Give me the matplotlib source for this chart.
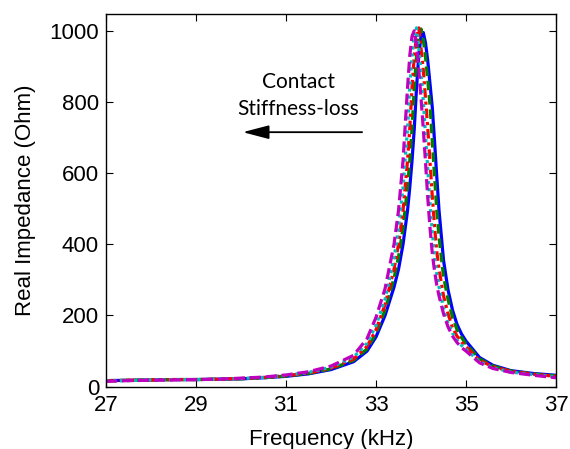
import matplotlib
matplotlib.use("Agg")
import matplotlib.pyplot as plt

freq = [27, 27.5, 28, 28.5, 29, 29.5, 30, 30.5, 31, 31.5, 32, 32.5, 32.8, 33.0, 33.2, 33.4,
        33.5, 33.6, 33.7, 33.75, 33.8, 33.85, 33.9, 33.95, 34.0, 34.05, 34.1, 34.15, 34.2,
        34.25, 34.3, 34.35, 34.4, 34.5, 34.6, 34.7, 34.8, 34.9, 35.0, 35.3, 35.6, 36.0, 36.5, 37.0]

blue = [17, 18, 19, 20, 20, 21, 22, 25, 29, 36, 48, 70, 100, 140, 200, 280,
        330, 400, 495, 560, 635, 725, 840, 930, 985, 995, 965, 915, 850,
        785, 690, 590, 495, 355, 272, 215, 175, 148, 128, 82, 60, 45, 37, 32]
green = [17, 18, 19, 20, 20, 21, 22, 25, 30, 37, 50, 74, 106, 150, 215, 305,
         365, 445, 560, 635, 725, 840, 930, 985, 1005, 975, 925, 860, 790,
         690, 590, 495, 420, 310, 245, 195, 160, 138, 120, 78, 58, 44, 36, 30]
red = [16, 18, 19, 20, 20, 21, 23, 26, 31, 38, 52, 78, 113, 160, 230, 330,
       400, 495, 635, 725, 840, 930, 985, 1008, 950, 890, 810, 725, 630,
       535, 450, 380, 330, 255, 205, 165, 142, 125, 112, 74, 56, 43, 35, 29]
cyan = [16, 17, 19, 20, 20, 21, 23, 26, 32, 40, 55, 83, 122, 172, 245, 360,
        445, 560, 725, 840, 930, 985, 1008, 955, 880, 805, 705, 610, 515,
        435, 365, 318, 280, 220, 178, 150, 130, 116, 105, 70, 53, 41, 34, 28]
magenta = [15, 17, 18, 19, 20, 21, 24, 27, 33, 42, 58, 88, 135, 195, 275, 400,
           495, 635, 840, 930, 985, 1000, 960, 890, 810, 725, 630, 530, 445,
           375, 325, 285, 255, 205, 168, 142, 124, 110, 100, 67, 51, 40, 32, 25]

xticks = [27, 29, 31, 33, 35, 37]
yticks = [0, 200, 400, 600, 800, 1000]

plt.rcParams['font.family'] = ['Liberation Sans', 'DejaVu Sans']

fig = plt.figure(figsize=(5.70, 4.49), dpi=100)
ax = fig.add_axes([0.186, 0.1388, 0.7895, 0.830])

lw = 2.3
ax.plot(freq, blue, color='#0000ff', lw=lw, ls='-')
ax.plot(freq, green, color='#008000', lw=lw, ls=(0, (3, 1.5)))
ax.plot(freq, red, color='#ff0000', lw=lw, ls=(0, (3, 1.2, 1, 1.2)))
ax.plot(freq, cyan, color='#00bfbf', lw=lw, ls=(0, (1, 1.2)))
ax.plot(freq, magenta, color='#bf00bf', lw=lw, ls=(0, (3.5, 1.5)))

ax.set_xlim(27, 37)
ax.set_ylim(0, 1047)
ax.set_xticks(xticks)
ax.set_xticklabels([str(t) for t in xticks])
ax.set_yticks(yticks)
ax.set_yticklabels([str(t) for t in yticks])
ax.tick_params(direction='in', top=True, right=True, length=5, width=0.8,
               labelsize=16, colors='black')
ax.tick_params(axis='x', pad=6)
ax.tick_params(axis='y', pad=5)
for s in ax.spines.values():
    s.set_linewidth(1.0)

ax.set_xlabel('Frequency (kHz)', fontsize=16, labelpad=9)
ax.set_ylabel('Real Impedance (Ohm)', fontsize=16, labelpad=10)

ax.text(31.27, 817, 'Contact\nStiffness-loss', ha='center', va='center',
        fontsize=15, family=['Lato', 'DejaVu Sans'], linespacing=1.45)
ax.annotate('', xy=(30.04, 715), xytext=(32.69, 715),
            arrowprops=dict(arrowstyle='-|>,head_length=1.6,head_width=0.42',
                            color='black', lw=1.3, shrinkA=0, shrinkB=0))

fig.savefig('out.png', dpi=100)
